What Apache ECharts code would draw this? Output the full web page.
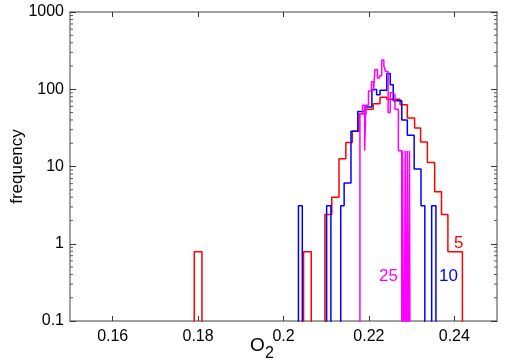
<!DOCTYPE html>
<html>
<head>
<meta charset="utf-8">
<script src="https://cdn.jsdelivr.net/npm/echarts@6/dist/echarts.min.js"></script>
<style>
  html, body { margin: 0; padding: 0; background: #fff; }
  #chart { width: 514px; height: 364px; }
</style>
</head>
<body>
<div id="chart"></div>
<script>
// histogram bins: edges (O2) and frequency per bin (0 = empty bin)
const redEdges = [0.1791, 0.1809, 0.2047, 0.2065, 0.2097, 0.2113, 0.2130, 0.2146, 0.2161, 0.2177, 0.2193, 0.2210,
  0.2226, 0.2242, 0.2258, 0.2273, 0.2290, 0.2307, 0.2321, 0.2337, 0.2354, 0.2370, 0.2385, 0.2419]
const redCounts = [0.79, 0, 0.79, 0, 2.4, 4.0, 12.6, 20.4, 28.5, 48, 55, 65, 79, 74, 74, 63, 42.5, 31.5, 20.7,
  11.3, 4.7, 2.4, 0.79]

const blueEdges = [0.2035, 0.2044, 0.2101, 0.2111, 0.2134, 0.2142, 0.2158, 0.2174, 0.2191, 0.2207, 0.2218, 0.2226,
  0.2242, 0.2250, 0.2257, 0.2277, 0.2290, 0.2306, 0.2322, 0.2331, 0.2347, 0.2357]
const blueCounts = [3.1, 0, 3.1, 0, 3.1, 6.1, 28.5, 51.6, 58.8, 99, 85, 97, 160, 114, 71, 40, 25.3, 9.3, 3.1, 0, 3.1]

const magentaEdges = [0.2179, 0.2185, 0.2190, 0.2193, 0.2199, 0.2206, 0.2211, 0.2214, 0.2220, 0.2225, 0.2230,
  0.2235, 0.2239, 0.2245, 0.2250, 0.2255, 0.2261, 0.2269, 0.2277, 0.2279, 0.2282, 0.2285, 0.2287, 0.2290,
  0.2292, 0.2295, 0.2297]
const magentaCounts = [48, 62, 16, 62, 95, 125, 95, 180, 140, 150, 240, 200, 170, 50, 90, 85, 55, 16, 0, 16, 0,
  16, 0, 16, 0, 16]

const xTicks = [0.16, 0.18, 0.2, 0.22, 0.24]
const decades = [0.1, 1, 10, 100]
const minorSteps = [2, 3, 4, 5, 6, 7, 8, 9]

const FLOOR = 0.001 // below axis min, gets clipped -> empty bin
const AXIS = '#808080'
const FONT = 'Liberation Sans, Arial, Helvetica, sans-serif'

function steps(edges, counts) {
  const pts = [[edges[0], FLOOR]]
  counts.forEach((c, i) => pts.push([edges[i], c > 0 ? c : FLOOR]))
  pts.push([edges[edges.length - 1], FLOOR])
  return pts
}

function histSeries(edges, counts, color) {
  return {
    type: 'line',
    step: 'end',
    symbol: 'none',
    clip: true,
    silent: true,
    data: steps(edges, counts),
    lineStyle: { color, width: 1.5 },
  }
}

const minorData = []
decades.forEach((d) => minorSteps.forEach((m) => minorData.push([0.15, d * m])))

const chart = echarts.init(document.getElementById('chart'), null, { renderer: 'canvas' })

chart.setOption({
  animation: false,
  textStyle: { fontFamily: FONT },
  grid: { left: 70, right: 17, top: 12, bottom: 43, outerBoundsMode: 'none', containLabel: false },
  xAxis: [
    {
      type: 'value', min: 0.15, max: 0.25,
      axisLine: { lineStyle: { color: AXIS, width: 1.5 } },
      axisTick: { inside: true, length: 5, lineStyle: { color: '#333' }, customValues: xTicks },
      axisLabel: { color: '#000', fontSize: 16, margin: 8, customValues: xTicks, fontFamily: FONT },
      splitLine: { show: false },
    },
    {
      type: 'value', min: 0.15, max: 0.25, position: 'top',
      axisLine: { lineStyle: { color: AXIS, width: 1.5 } },
      axisTick: { inside: true, length: 5, lineStyle: { color: '#333' }, customValues: xTicks },
      axisLabel: { show: false },
      splitLine: { show: false },
    },
  ],
  yAxis: [
    {
      type: 'log', logBase: 10, min: 0.1, max: 1000,
      name: 'frequency', nameLocation: 'middle', nameGap: 44, nameMoveOverlap: false,
      nameTextStyle: { color: '#000', fontSize: 17, fontFamily: FONT },
      axisLine: { lineStyle: { color: AXIS, width: 1.5 } },
      axisTick: { inside: true, length: 6, lineStyle: { color: '#333' } },
      axisLabel: {
        color: '#000', fontSize: 16, margin: 6, fontFamily: FONT,
        formatter: (v) => String(+Number(v).toPrecision(6)),
      },
      splitLine: { show: false },
    },
    {
      type: 'log', logBase: 10, min: 0.1, max: 1000, position: 'right',
      axisLine: { lineStyle: { color: AXIS, width: 1.5 } },
      axisTick: { inside: true, length: 6, lineStyle: { color: '#333' } },
      axisLabel: { show: false },
      splitLine: { show: false },
    },
  ],
  graphic: [
    { type: 'text', left: 250, top: 336, style: { text: 'O', fontSize: 19, fontFamily: FONT, fill: '#000' } },
    { type: 'text', left: 265, top: 346, style: { text: '2', fontSize: 16, fontFamily: FONT, fill: '#000' } },
    { type: 'text', left: 454, top: 235, style: { text: '5', fontSize: 17, fontFamily: FONT, fill: '#ff0000' } },
    { type: 'text', left: 439, top: 268, style: { text: '10', fontSize: 17, fontFamily: FONT, fill: '#0000ff' } },
    { type: 'text', left: 379, top: 268, style: { text: '25', fontSize: 17, fontFamily: FONT, fill: '#ff00ff' } },
  ],
  series: [
    histSeries(redEdges, redCounts, '#ff0000'),
    histSeries(blueEdges, blueCounts, '#0000ff'),
    histSeries(magentaEdges, magentaCounts, '#ff00ff'),
    {
      // log-placed minor ticks (2..9) on both y axes
      type: 'custom',
      silent: true,
      clip: false,
      data: minorData,
      renderItem(params, api) {
        const l = api.coord([0.15, api.value(1)])
        const r = api.coord([0.25, api.value(1)])
        const st = { stroke: '#555', lineWidth: 1 }
        return {
          type: 'group',
          children: [
            { type: 'line', shape: { x1: l[0], y1: l[1], x2: l[0] + 3, y2: l[1] }, style: st },
            { type: 'line', shape: { x1: r[0] - 3, y1: r[1], x2: r[0], y2: r[1] }, style: st },
          ],
        }
      },
    },
  ],
})
</script>
</body>
</html>
